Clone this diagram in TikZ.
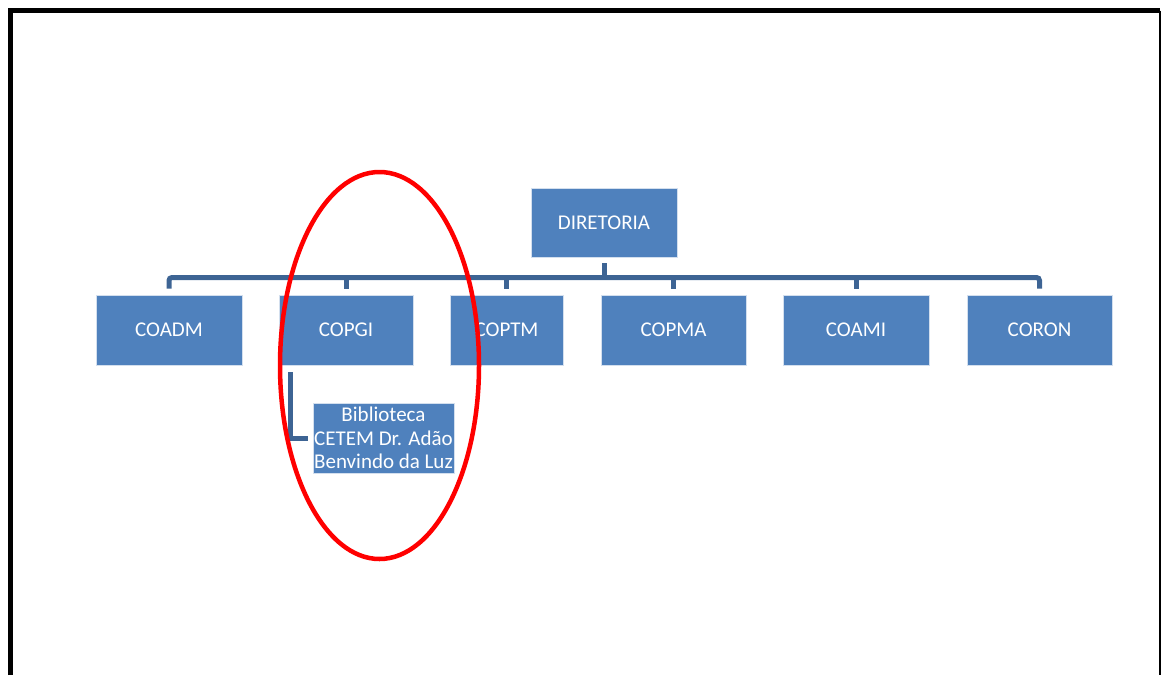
\documentclass[tikz,border=0pt]{standalone}
\usepackage{fontspec}
\setmainfont{Carlito}
\definecolor{boxblue}{RGB}{79,129,189}
\definecolor{linkblue}{RGB}{61,100,148}
\tikzset{
  unit/.style={draw=white!75!boxblue, line width=0.8pt, fill=boxblue, text=white,
    minimum height=70pt, inner sep=0pt, align=center,
    font=\fontsize{21}{23.5}\selectfont},
  link/.style={draw=linkblue, line width=5pt},
}
\begin{document}
\begin{tikzpicture}[x=1pt,y=-1pt]
\useasboundingbox (0,0) rectangle (1161,675);
\draw[line width=5pt] (10.5,675) -- (10.5,10.5) -- (1160,10.5);
\draw[line width=2.5pt] (1160,10.5) -- (1160,675);

\node[unit, minimum width=146pt, minimum height=69pt] (dir) at (604,222.5) {DIRETORIA};

\node[unit, minimum width=146pt] (coadm) at (169,330) {COADM};
\node[unit, minimum width=134pt] (copgi) at (346,330) {COPGI};
\node[unit, minimum width=113pt] (coptm) at (506.5,330) {COPTM};
\node[unit, minimum width=145pt] (copma) at (673.5,330) {COPMA};
\node[unit, minimum width=146pt] (coami) at (856,330) {COAMI};
\node[unit, minimum width=145pt] (coron) at (1039.5,330) {CORON};

\node[unit, minimum width=141pt] (bib) at (383.5,438) {Biblioteca\\CETEM Dr. Adão\\Benvindo da Luz};

\coordinate (bus) at (604,277.5);
\draw[link, rounded corners=3pt] ([yshift=6pt]coadm.north) |- (bus -| coron.north) -- ([yshift=6pt]coron.north);
\foreach \n in {copgi,coptm,copma,coami}
  \draw[link] ([yshift=6pt]\n.north) -- (\n.north |- bus);
\draw[link] ([yshift=-6pt]dir.south) -- (dir.south |- bus);
\draw[link] ([shift={(12pt,-7pt)}]copgi.south west) |- ([xshift=-5pt]bib.west);

% highlight
\draw[red, line width=4.5pt] (379.5,365.5) ellipse [x radius=99.5, y radius=193.5];
\end{tikzpicture}
\end{document}
